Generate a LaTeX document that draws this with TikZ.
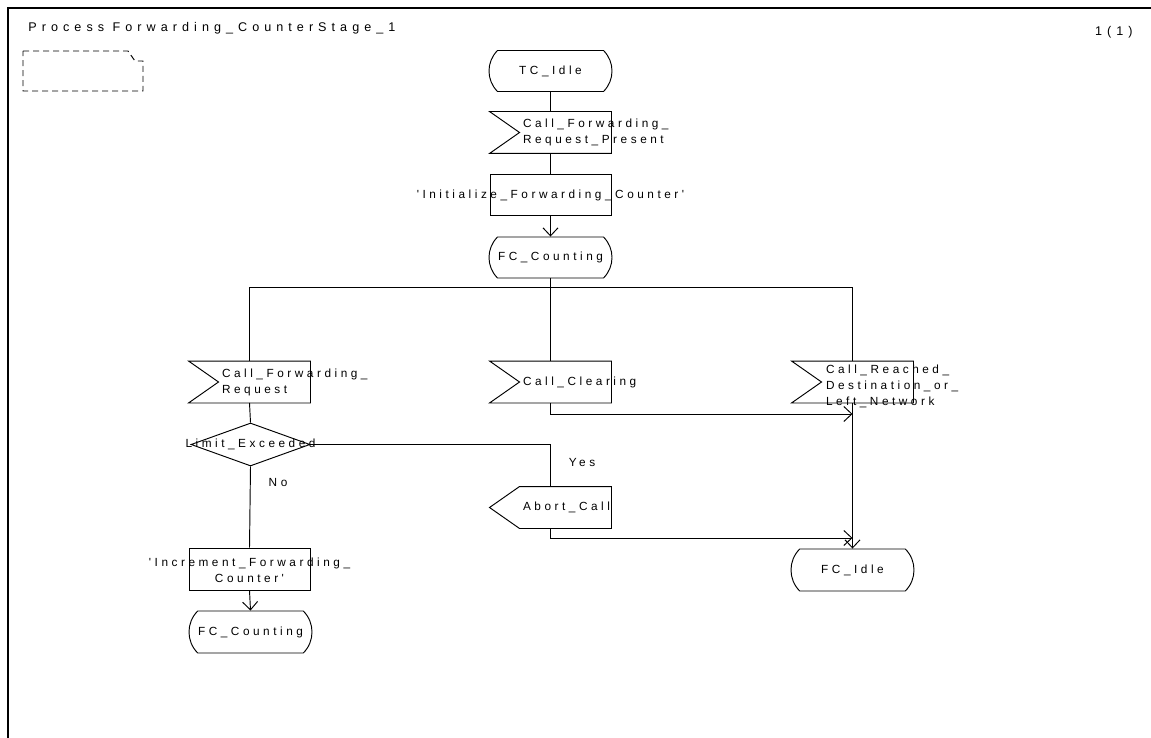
\documentclass[tikz,border=0pt]{standalone}
\usepackage{fontspec}
\setmainfont{Liberation Sans}
\newfontfamily\sdlfont{Liberation Sans}[LetterSpace=30]
\newfontfamily\sdltitlefont{Liberation Sans}[LetterSpace=40]
\usetikzlibrary{shapes.geometric,shapes.misc,arrows.meta}

\begin{document}
\begin{tikzpicture}[x=1pt,y=-1pt,line width=0.95pt,
  node font=\sdlfont\fontsize{11.8}{16}\selectfont,
  sdl/.style={inner sep=0pt,minimum width=121pt,minimum height=41pt},
  statebox/.style={sdl,draw,rounded rectangle,rounded rectangle arc length=90,minimum width=123pt},
  inputbox/.style={sdl,append after command={\pgfextra{\draw (\tikzlastnode.north west) -- (\tikzlastnode.north east) -- (\tikzlastnode.south east) -- (\tikzlastnode.south west) -- ([xshift=30pt]\tikzlastnode.west) -- cycle;}}},
  outputbox/.style={sdl,append after command={\pgfextra{\draw ([xshift=30pt]\tikzlastnode.north west) -- (\tikzlastnode.north east) -- (\tikzlastnode.south east) -- ([xshift=30pt]\tikzlastnode.south west) -- (\tikzlastnode.west) -- cycle;}}},
  taskbox/.style={sdl,draw,rectangle},
  decisionbox/.style={sdl,draw,diamond,minimum width=119pt,minimum height=43pt},
  lefttext/.style={label={[text width=160pt,align=left,inner sep=0pt,xshift=52.5pt]center:#1}},
  midtext/.style={label={[align=center]center:#1}},
  arr/.style={-{Straight Barb[length=8pt,width=15pt]}}]
\useasboundingbox (0,0) rectangle (1151,738);
% frame and header
\draw[line width=1.4pt] (8,738) -- (8,8) -- (1151,8);
\node[anchor=base west,font=\sdltitlefont\fontsize{12.6}{14}\selectfont] (title) at (24,32) {Process Forwarding\_CounterStage\_1};
\node[anchor=base east,font=\sdltitlefont\fontsize{12.6}{14}\selectfont] (page) at (1137,36) {1(1)};
\draw[dash pattern=on 6pt off 4pt] (23,51) -- (128,51) -- (135,61) -- (143,61) -- (143,91) -- (23,91) -- cycle;
% start
\node[statebox,midtext={TC\_Idle}] (tcidle) at (550.5,71) {};
\node[inputbox,lefttext={Call\_Forwarding\_\\Request\_Present}] (cfrp) at (550.5,132.5) {};
\node[taskbox,midtext={'Initialize\_Forwarding\_Counter'}] (init) at (550.5,195) {};
\node[statebox,midtext={FC\_Counting}] (fccount) at (550.5,257.5) {};
% inputs
\node[inputbox,lefttext={Call\_Forwarding\_\\Request}] (cfr) at (249.5,382) {};
\node[inputbox,lefttext={Call\_Clearing}] (clearing) at (550.5,382) {};
\node[inputbox,label={[text width=160pt,align=left,inner sep=0pt,xshift=53.5pt,yshift=-4pt]center:Call\_Reached\_\\Destination\_or\_\\Left\_Network}] (reached) at (852.5,382) {};
% left branch
\node[decisionbox,midtext={Limit\_Exceeded}] (limit) at (250.5,444.5) {};
\node[outputbox,lefttext={Abort\_Call}] (abort) at (550.5,507.5) {};
\node[taskbox,minimum height=42pt,label={[align=center,yshift=-1pt]center:'Increment\_Forwarding\_\\Counter'}] (incr) at (249.5,569) {};
\node[statebox,minimum height=42pt,midtext={FC\_Counting}] (fccount2) at (250.5,632) {};
\node[statebox,minimum height=42pt,midtext={FC\_Idle}] (fcidle) at (852.5,570) {};
\coordinate (bus) at (852.5,287);
\coordinate (mergeA) at (852.5,414);
\coordinate (mergeB) at (852.5,538);
% connectors
\draw (tcidle.south) -- (cfrp.north);
\draw (cfrp.south) -- (init.north);
\draw[arr] (init.south) -- (fccount.north);
\draw (fccount.south) -- (clearing.north);
\draw (cfr.north) |- (bus) -- (reached.north);
\draw (cfr.south) -- (limit.north);
\draw (limit.east) -| (abort.north) node[pos=0.75,anchor=west,xshift=14pt,yshift=3pt] {Yes};
\draw (limit.south) -- (incr.north) node[pos=0.2,anchor=west,xshift=14pt] {No};
\draw[arr] (incr.south) -- (fccount2.north);
\draw[arr] (clearing.south) |- (mergeA);
\draw[arr] (abort.south) |- (mergeB);
\draw[arr] (reached.south) -- (fcidle.north);
\end{tikzpicture}
\end{document}
